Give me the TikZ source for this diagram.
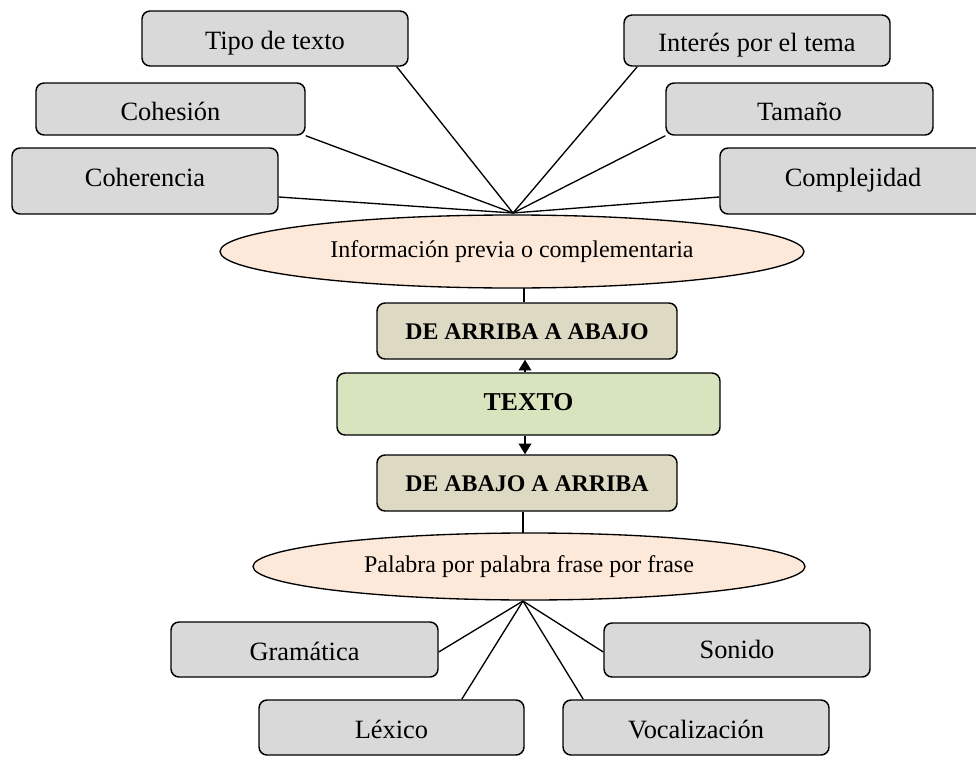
\documentclass[tikz,border=0pt]{standalone}
\usepackage{fontspec}
\setmainfont{Liberation Serif}
\usetikzlibrary{shapes.geometric,arrows.meta,calc}
\definecolor{boxgray}{HTML}{D9D9D9}
\definecolor{boxtan}{HTML}{DDD9C3}
\definecolor{boxgreen}{HTML}{D7E4BD}
\definecolor{ellpeach}{HTML}{FDE9D9}
\tikzset{
  gbox/.style={draw=black, line width=1.1pt, fill=boxgray, rounded corners=6pt,
    inner sep=0pt, text height=17pt, text depth=0pt,
    font=\fontsize{19.8}{22}\selectfont},
  tbox/.style={draw=black, line width=1.1pt, fill=boxtan, rounded corners=6pt,
    inner sep=0pt, text height=13pt, text depth=0pt,
    font=\fontsize{17.9}{21}\selectfont\bfseries},
  xbox/.style={draw=black, line width=1.1pt, fill=boxgreen, rounded corners=6pt,
    inner sep=0pt, text height=9pt, text depth=0pt,
    font=\fontsize{19.3}{22}\selectfont\bfseries},
  pell/.style={ellipse, draw=black, line width=1pt, fill=ellpeach, inner sep=0pt,
    font=\fontsize{18}{21}\selectfont},
  conn/.style={draw=black, line width=1pt},
  arr/.style={draw=black, line width=1pt, -{Triangle[length=8pt,width=9.5pt]}}
}
\begin{document}
\begin{tikzpicture}[x=0.75pt, y=-0.75pt]
\path[use as bounding box] (0,0) rectangle (976,757);
\clip (0,0) rectangle (976,757);
% top boxes
\node[gbox, minimum width=199.5pt, minimum height=41.25pt] (tipo) at (275,38.5) {Tipo de texto};
\node[gbox, minimum width=199.5pt, minimum height=38.25pt] (interes) at (757,40.5) {Interés por el tema};
\node[gbox, minimum width=201.75pt, minimum height=39pt] (cohesion) at (170.5,109) {Cohesión};
\node[gbox, minimum width=200.25pt, minimum height=39pt] (tamano) at (799.5,109) {Tamaño};
\node[gbox, text height=8pt, minimum width=199.5pt, minimum height=49.5pt] (coherencia) at (145,181) {Coherencia};
\node[gbox, text height=8pt, minimum width=199.5pt, minimum height=49.5pt] (complejidad) at (853,181) {Complejidad};
% top ellipse
\node[pell, minimum width=438pt, minimum height=54.75pt] (ell1) at (512,251.5) {Información previa o complementaria};
\coordinate (ct) at (513,213);
% central boxes
\node[tbox, minimum width=225pt, minimum height=42pt] (arriba) at (527,331) {DE ARRIBA A ABAJO};
\node[xbox, minimum width=287.25pt, minimum height=46.5pt] (texto) at (528.5,404) {TEXTO};
\node[tbox, minimum width=225pt, minimum height=42pt] (abajo) at (527,483) {DE ABAJO A ARRIBA};
% bottom ellipse
\node[pell, minimum width=414pt, minimum height=50.25pt] (ell2) at (529,566.5) {Palabra por palabra frase por frase};
\coordinate (cb) at (523,601);
% bottom boxes
\node[gbox, minimum width=200.25pt, minimum height=41.25pt] (gramatica) at (304.5,649.5) {Gramática};
\node[gbox, text height=13pt, minimum width=199.5pt, minimum height=40.5pt] (sonido) at (737,650) {Sonido};
\node[gbox, minimum width=198.75pt, minimum height=41.25pt] (lexico) at (391.5,727.5) {Léxico};
\node[gbox, minimum width=199.5pt, minimum height=41.25pt] (vocal) at (696,727.5) {Vocalización};
% connectors top
\draw[conn] ($(tipo.south east)+(-12,0)$) -- (ct);
\draw[conn] (cohesion.south east) -- (ct);
\draw[conn] ($(coherencia.east)+(0,16)$) -- (ct);
\draw[conn] ($(interes.south west)+(14,0)$) -- (ct);
\draw[conn] (tamano.south west) -- (ct);
\draw[conn] ($(complejidad.west)+(0,16)$) -- (ct);
% vertical
\draw[conn] ($(arriba.north)+(-3,0)$) -- ($(ell1.south)+(12,-0.5)$);
\draw[arr] ($(texto.north)+(-3.5,0)$) -- ($(arriba.south)+(-2,0)$);
\draw[arr] ($(texto.south)+(-3.5,0)$) -- ($(abajo.north)+(-2,0)$);
\draw[conn] ($(abajo.south)+(-4,0)$) -- ($(ell2.north)+(-6,0.3)$);
% connectors bottom
\draw[conn] ($(gramatica.east)+(0,2.5)$) -- (cb);
\draw[conn] ($(lexico.north east)+(-63,0)$) -- (cb);
\draw[conn] ($(vocal.north west)+(21,0)$) -- (cb);
\draw[conn] ($(sonido.west)+(0,2)$) -- (cb);
\end{tikzpicture}
\end{document}
